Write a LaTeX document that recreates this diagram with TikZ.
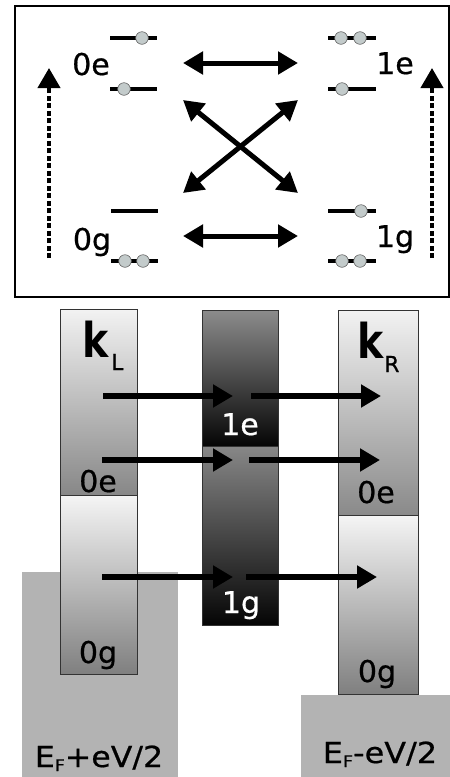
\documentclass[tikz,border=0pt]{standalone}
\usepackage{graphicx}
\usepackage{fontspec}
\setmainfont{DejaVu Sans}
\newfontfamily\lblfont{DejaVu Sans}[FakeBold=0.6]
\usetikzlibrary{arrows.meta}
\definecolor{dotc}{HTML}{C3CBCB}
\definecolor{seac}{HTML}{B3B3B3}
\newcommand{\efsub}{\raisebox{-4pt}{\fontsize{16}{16}\selectfont F}}
\begin{document}
\begin{tikzpicture}[x=1pt,y=-1pt,
  level/.style={line width=4.5pt},
  dot/.style={fill=dotc, draw=black!60, line width=0.6pt},
  lbl/.style={font=\lblfont\fontsize{30}{32}\selectfont, inner sep=0pt, anchor=base},
  wlbl/.style={lbl, text=white},
  eflbl/.style={font=\lblfont\fontsize{29}{31}\selectfont, inner sep=0pt, anchor=base},
  klbl/.style={font=\fontsize{48}{50}\selectfont\bfseries, inner sep=0pt, anchor=base},
  subl/.style={font=\lblfont\fontsize{22}{24}\selectfont, inner sep=0pt, anchor=base west},
  tarrow/.style={line width=5pt, {Triangle[width=22pt,length=20pt]}-{Triangle[width=22pt,length=20pt]}},
  darrow/.style={line width=4pt, dash pattern=on 5pt off 2.5pt, -{Triangle[width=22pt,length=20pt]}},
  barrow/.style={line width=6pt, -{Triangle[width=22pt,length=20pt]}},
  colbox/.style={draw=black!80, line width=0.8pt},
  sea/.style={fill=seac, draw=none}
]
\useasboundingbox (0,0) rectangle (450,777);
% ---------- top box ----------
\draw[line width=2pt] (15,6) rectangle (449,297);
% levels left
\draw[level] (110,38) -- (157,38);
\draw[level] (110,89) -- (157,89);
\draw[level] (111,211) -- (158,211);
\draw[level] (111,261) -- (158,261);
\draw[dot] (142,38) circle (6.3);
\draw[dot] (124,89) circle (6.3);
\draw[dot] (125,261) circle (6.3);
\draw[dot] (143,261) circle (6.3);
% levels right
\draw[level] (328,38) -- (376,38);
\draw[level] (328,89) -- (376,89);
\draw[level] (328,211) -- (376,211);
\draw[level] (328,261) -- (376,261);
\draw[dot] (341,38) circle (6.3);
\draw[dot] (360,38) circle (6.3);
\draw[dot] (342,89) circle (6.3);
\draw[dot] (361,211) circle (6.3);
\draw[dot] (342,261) circle (6.3);
\draw[dot] (360,261) circle (6.3);
% labels
\node[lbl] (l0e) at (91,75) {0e};
\node[lbl] (l0g) at (92,250) {0g};
\node[lbl] (l1e) at (395,74) {1e};
\node[lbl] (l1g) at (395,247) {1g};
% arrow coordinates
\coordinate (aL1) at (183,63);  \coordinate (aR1) at (298,63);
\coordinate (aL2) at (183,236); \coordinate (aR2) at (298,236);
\coordinate (cLt) at (183,100); \coordinate (cRb) at (298,193);
\coordinate (cLb) at (183,193); \coordinate (cRt) at (298,100);
\draw[tarrow] (aL1) -- (aR1);
\draw[tarrow] (aL2) -- (aR2);
\draw[tarrow] (cLt) -- (cRb);
\draw[tarrow] (cLb) -- (cRt);
\coordinate (dL0) at (49,258); \coordinate (dL1) at (49,68);
\coordinate (dR0) at (432,258); \coordinate (dR1) at (432,68);
\draw[darrow] (dL0) -- (dL1);
\draw[darrow] (dR0) -- (dR1);
% ---------- bottom ----------
\fill[sea] (22,572) rectangle (178,777);
\fill[sea] (301,695) rectangle (450,777);
% left column
\shadedraw[colbox, top color=black!5, bottom color=black!47] (60,309) rectangle (137,495);
\shadedraw[colbox, top color=black!4, bottom color=black!50] (60,495) rectangle (137,674);
% middle column
\shadedraw[colbox, top color=black!45, bottom color=black!98] (202,310) rectangle (278,446);
\shadedraw[colbox, top color=black!47, bottom color=black!98] (202,446) rectangle (278,625);
% right column
\shadedraw[colbox, top color=black!5, bottom color=black!46] (338,310) rectangle (418,515);
\shadedraw[colbox, top color=black!4, bottom color=black!50] (338,515) rectangle (418,694);
% column labels
\node[klbl] (kL) at (96,357) {\scalebox{0.82}[1]{k}};
\node[subl] (kLs) at (111,370) {L};
\node[klbl] (kR) at (371,358) {\scalebox{0.82}[1]{k}};
\node[subl] (kRs) at (384,372) {R};
\node[lbl] (b0eL) at (98,492) {0e};
\node[lbl] (b0gL) at (98,663) {0g};
\node[lbl] (b0eR) at (376,503) {0e};
\node[lbl] (b0gR) at (377,682) {0g};
\node[wlbl] (b1e) at (240,435) {1e};
\node[wlbl] (b1g) at (241,613) {1g};
\node[eflbl] (efL) at (99,767) {\scalebox{1.09}[1]{E\efsub+eV/2}};
\node[eflbl] (efR) at (380,763) {\scalebox{1.1}[1]{E\efsub-eV/2}};
% bottom arrows
\coordinate (r1a) at (103,396); \coordinate (r1b) at (233,396);
\coordinate (r1c) at (251,396); \coordinate (r1d) at (381,396);
\coordinate (r2a) at (102,460); \coordinate (r2b) at (233,460);
\coordinate (r2c) at (249,460); \coordinate (r2d) at (380,460);
\coordinate (r3a) at (102,577); \coordinate (r3b) at (233,577);
\coordinate (r3c) at (246,577); \coordinate (r3d) at (377,577);
\draw[barrow] (r1a) -- (r1b);
\draw[barrow] (r1c) -- (r1d);
\draw[barrow] (r2a) -- (r2b);
\draw[barrow] (r2c) -- (r2d);
\draw[barrow] (r3a) -- (r3b);
\draw[barrow] (r3c) -- (r3d);
\end{tikzpicture}
\end{document}
